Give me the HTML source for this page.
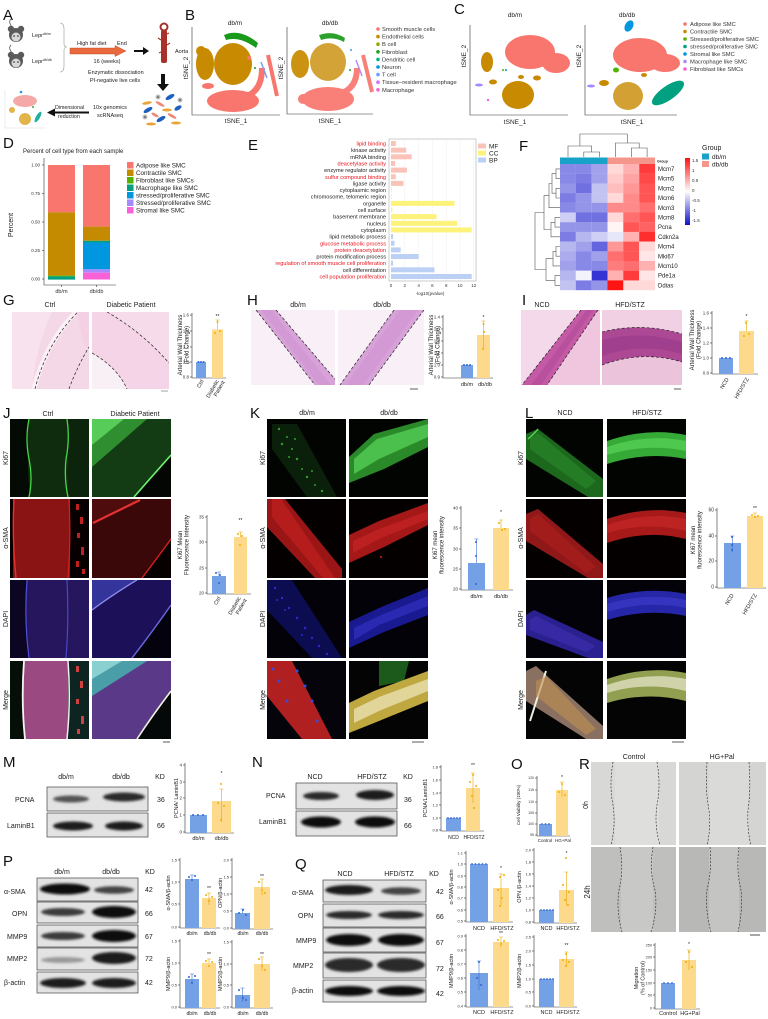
<!DOCTYPE html>
<html><head><meta charset="utf-8">
<style>
html,body{margin:0;padding:0;background:#fff;}
svg{display:block;font-family:"Liberation Sans",Arial,sans-serif;}
.ax line,.ax path{stroke:#333;stroke-width:0.6;fill:none}
.tk{font-size:4.5px;text-anchor:end;fill:#333}
.pl{font-size:15px;fill:#111}
.bb{fill:#74a0e6}
.by{fill:#fdd98b}
.eb{stroke:#3d6fd0;stroke-width:0.6;fill:none}
.ey{stroke:#e8a800;stroke-width:0.6;fill:none}
.db{fill:#2f66d4}
.dy{fill:#f2b000}
.s6{font-size:6px;fill:#222}
.s7{font-size:7px;fill:#222}
.bx{fill:#e3e3e3;stroke:#444;stroke-width:0.7}
.ds{stroke:#222;stroke-width:0.7;stroke-dasharray:3,2;fill:none}
</style></head><body>
<svg width="768" height="1019" viewBox="0 0 768 1019" xmlns="http://www.w3.org/2000/svg">
<defs>
<filter id="bl" x="-30%" y="-100%" width="160%" height="300%"><feGaussianBlur stdDeviation="1.3"/></filter>
<linearGradient id="hm" x1="0" y1="0" x2="0" y2="1">
<stop offset="0" stop-color="#ff1010"/><stop offset="0.5" stop-color="#ffffff"/><stop offset="1" stop-color="#1010c8"/></linearGradient>
</defs>

<!-- ============ A ============ -->
<text class="pl" x="3" y="20">A</text>
<g>
<path d="M12,27 Q8,22 11,19" stroke="#444" stroke-width="0.7" fill="none"/>
<circle cx="11" cy="29" r="3.2" fill="#5a5a5a"/><circle cx="21" cy="29" r="3.2" fill="#5a5a5a"/>
<ellipse cx="16" cy="35" rx="7" ry="7" fill="#5a5a5a"/><ellipse cx="16" cy="37" rx="4.5" ry="4.5" fill="#d8d8d8"/>
<circle cx="14" cy="36" r="0.8" fill="#222"/><circle cx="18" cy="36" r="0.8" fill="#222"/>
</g>
<g transform="translate(0,26)">
<path d="M12,27 Q8,22 11,19" stroke="#444" stroke-width="0.7" fill="none"/>
<circle cx="11" cy="29" r="3.2" fill="#5a5a5a"/><circle cx="21" cy="29" r="3.2" fill="#5a5a5a"/>
<ellipse cx="16" cy="35" rx="7" ry="7" fill="#5a5a5a"/><ellipse cx="16" cy="37" rx="4.5" ry="4.5" fill="#d8d8d8"/>
<circle cx="14" cy="36" r="0.8" fill="#222"/><circle cx="18" cy="36" r="0.8" fill="#222"/>
</g>
<text x="32" y="37" font-size="5.5" fill="#222">Lepr<tspan font-size="3.5" dy="-2">db/m</tspan></text>
<text x="32" y="63" font-size="5.5" fill="#222">Lepr<tspan font-size="3.5" dy="-2">db/db</tspan></text>
<path d="M60,23 Q64,23 64,29 L64,44 Q64,47 67,47 Q64,47 64,50 L64,66 Q64,72 60,72" stroke="#999" stroke-width="0.6" fill="none"/>
<polygon points="70,48 115,48 115,45.5 126,51 115,56.5 115,54 70,54" fill="#ea6a3e" stroke="#b04020" stroke-width="0.4"/>
<text x="77" y="45" font-size="5.5" fill="#222">High fat diet</text>
<text x="117" y="45" font-size="5.5" fill="#222">End</text>
<text x="107" y="63" font-size="5.5" fill="#222" text-anchor="middle">16 (weeks)</text>
<path d="M134,50 L143,50 L143,47 L149,51 L143,55 L143,52 L134,52 Z" fill="#111"/>
<circle cx="164" cy="27" r="3.5" stroke="#a33028" stroke-width="2" fill="none"/>
<rect x="161" y="30" width="6" height="33" rx="2" fill="#a8322a"/>
<path d="M161,40 l-3,-2 M167,45 l3,-2 M161,52 l-2,1 M167,34 l2,-1" stroke="#a8322a" stroke-width="1.2"/>
<text x="175" y="53" font-size="5.5" fill="#222">Aorta</text>
<text x="88" y="74" font-size="5.5" fill="#222">Enzymatic dissociation</text>
<text x="90" y="82" font-size="5.5" fill="#222">PI-negative live cells</text>
<path d="M161,74 L165,74 L165,84 L169,84 L163,91 L157,84 L161,84 Z" fill="#111"/>
<g>
<ellipse cx="170" cy="97" rx="5" ry="2" transform="rotate(-30 170 97)" fill="#1f5fbf"/>
<ellipse cx="148" cy="110" rx="5" ry="2" transform="rotate(-30 148 110)" fill="#1f5fbf"/>
<ellipse cx="161" cy="119" rx="5" ry="2" transform="rotate(-30 161 119)" fill="#1f5fbf"/>
<ellipse cx="178" cy="108" rx="4" ry="2" transform="rotate(-30 178 108)" fill="#1f5fbf"/>
<ellipse cx="147" cy="103" rx="5" ry="1.5" transform="rotate(-10 147 103)" fill="#e8a53a"/>
<ellipse cx="167" cy="110" rx="5" ry="1.5" fill="#e8a53a"/>
<ellipse cx="151" cy="124" rx="5" ry="1.5" fill="#e8a53a"/>
<ellipse cx="176" cy="123" rx="5" ry="1.5" fill="#e8a53a"/>
<ellipse cx="160" cy="104" rx="5" ry="1.5" transform="rotate(30 160 104)" fill="#f08878"/>
<ellipse cx="172" cy="116" rx="5" ry="1.5" transform="rotate(30 172 116)" fill="#f08878"/>
<ellipse cx="155" cy="115" rx="4" ry="1.5" transform="rotate(30 155 115)" fill="#f08878"/>
<circle cx="158" cy="97" r="2.5" fill="#bbb"/><circle cx="158" cy="97" r="0.8" fill="#333"/>
<circle cx="145" cy="117" r="2.5" fill="#bbb"/><circle cx="145" cy="117" r="0.8" fill="#333"/>
<circle cx="180" cy="100" r="2.5" fill="#bbb"/><circle cx="180" cy="100" r="0.8" fill="#333"/>
</g>
<text x="93" y="109" font-size="5.5" fill="#222">10x genomics</text>
<text x="97" y="117" font-size="5.5" fill="#222">scRNAseq</text>
<path d="M89,111.5 L55,111.5 L55,108.5 L47,112.5 L55,116.5 L55,113.5 L89,113.5 Z" fill="#111"/>
<text x="55" y="109" font-size="5.3" fill="#222">Dimensional</text>
<text x="58" y="118" font-size="5.3" fill="#222">reduction</text>
<path d="M5,90 V128 H46" stroke="#ddd" stroke-width="0.5" fill="none"/>
<ellipse cx="25" cy="101" rx="12" ry="6" fill="#f4a8a8"/>
<ellipse cx="25" cy="119" rx="6" ry="6" fill="#e2b449"/>
<ellipse cx="12" cy="110" rx="3" ry="3" fill="#e2b449"/>
<ellipse cx="38" cy="117" rx="2" ry="6" transform="rotate(30 38 117)" fill="#20b0a0"/>
<circle cx="21" cy="92" r="1.3" fill="#3090e0"/><circle cx="33" cy="107" r="1" fill="#40a040"/>

<!-- ============ B ============ -->
<text class="pl" x="185" y="20">B</text>
<text x="235" y="25" font-size="6.5" text-anchor="middle" fill="#222">db/m</text>
<text x="330" y="25" font-size="6.5" text-anchor="middle" fill="#222">db/db</text>
<g class="ax"><path d="M192,27 V115 H280"/><path d="M287,27 V114 H373"/></g>
<text transform="translate(188,68) rotate(-90)" font-size="6.5" text-anchor="middle" fill="#222">tSNE_2</text>
<text transform="translate(283,68) rotate(-90)" font-size="6.5" text-anchor="middle" fill="#222">tSNE_2</text>
<text x="236" y="123" font-size="6.5" text-anchor="middle" fill="#222">tSNE_1</text>
<text x="330" y="123" font-size="6.5" text-anchor="middle" fill="#222">tSNE_1</text>
<g>
<path d="M224,35 Q240,28 258,43 L256,48 Q240,36 226,40 Z" fill="#1a9a1a"/>
<ellipse cx="233" cy="64" rx="19" ry="21" fill="#c88a00"/>
<ellipse cx="205" cy="64" rx="9" ry="16" fill="#c88a00"/>
<ellipse cx="201" cy="51" rx="5" ry="5" fill="#c88a00"/>
<ellipse cx="233" cy="101" rx="26" ry="11" fill="#f8766d"/>
<path d="M244,97 Q262,92 262,68" stroke="#f8766d" stroke-width="6" fill="none"/>
<path d="M268,55 L277,96" stroke="#f8766d" stroke-width="4"/>
<ellipse cx="208" cy="86" rx="6" ry="3" fill="#f8766d"/>
<circle cx="249" cy="58" r="2" fill="#f8766d"/>
<path d="M261,62 L267,78" stroke="#7b9ef0" stroke-width="1.5"/>
<circle cx="255" cy="68" r="1" fill="#1a9a1a"/>
</g>
<g transform="translate(95,0)" opacity="0.92">
<path d="M224,35 Q238,30 250,38 L249,42 Q238,36 226,40 Z" fill="#1a9a1a"/>
<ellipse cx="233" cy="62" rx="18" ry="19" fill="#c88a00" opacity="0.85"/>
<ellipse cx="205" cy="64" rx="9" ry="14" fill="#c88a00"/>
<ellipse cx="233" cy="99" rx="26" ry="12" fill="#f8766d"/>
<path d="M244,94 Q262,89 262,68" stroke="#f8766d" stroke-width="6" fill="none"/>
<path d="M268,55 L277,92" stroke="#f8766d" stroke-width="4"/>
<ellipse cx="208" cy="99" rx="5" ry="5" fill="#f8766d"/>
<path d="M261,60 L267,76" stroke="#b080f0" stroke-width="1.5"/>
<circle cx="256" cy="50" r="1" fill="#3090e0"/><circle cx="255" cy="70" r="1" fill="#1a9a1a"/>
</g>
<g font-size="5.8" fill="#333">
<circle cx="378" cy="29" r="1.8" fill="#f8766d"/><text x="382" y="31">Smooth muscle cells</text>
<circle cx="378" cy="36.6" r="1.8" fill="#c88a00"/><text x="382" y="38.6">Endothelial cells</text>
<circle cx="378" cy="44.2" r="1.8" fill="#99a800"/><text x="382" y="46.2">B cell</text>
<circle cx="378" cy="51.8" r="1.8" fill="#1aa01a"/><text x="382" y="53.8">Fibroblast</text>
<circle cx="378" cy="59.4" r="1.8" fill="#00b48a"/><text x="382" y="61.4">Dendritic cell</text>
<circle cx="378" cy="67" r="1.8" fill="#0096e0"/><text x="382" y="69">Neuron</text>
<circle cx="378" cy="74.6" r="1.8" fill="#6d9eff"/><text x="382" y="76.6">T cell</text>
<circle cx="378" cy="82.2" r="1.8" fill="#d46cff"/><text x="382" y="84.2">Tissue−resident macrophage</text>
<circle cx="378" cy="89.8" r="1.8" fill="#fb61d7"/><text x="382" y="91.8">Macrophage</text>
</g>

<!-- ============ C ============ -->
<text class="pl" x="454" y="14">C</text>
<text x="515" y="17" font-size="6.5" text-anchor="middle" fill="#222">db/m</text>
<text x="627" y="17" font-size="6.5" text-anchor="middle" fill="#222">db/db</text>
<g class="ax"><path d="M470,25 V115 H568"/><path d="M585,25 V115 H677"/></g>
<text transform="translate(466,56) rotate(-90)" font-size="6.5" text-anchor="middle" fill="#222">tSNE_2</text>
<text transform="translate(581,56) rotate(-90)" font-size="6.5" text-anchor="middle" fill="#222">tSNE_2</text>
<text x="515" y="124" font-size="6.5" text-anchor="middle" fill="#222">tSNE_1</text>
<text x="632" y="124" font-size="6.5" text-anchor="middle" fill="#222">tSNE_1</text>
<g>
<ellipse cx="530" cy="52" rx="25" ry="17" fill="#f8766d"/>
<ellipse cx="556" cy="63" rx="14" ry="10" fill="#f8766d"/>
<ellipse cx="518" cy="95" rx="16" ry="14" fill="#c88a00"/>
<ellipse cx="487" cy="62" rx="6" ry="10" fill="#c88a00"/>
<ellipse cx="493" cy="82" rx="4" ry="2.5" fill="#c88a00"/>
<ellipse cx="537" cy="78" rx="4" ry="2.5" fill="#c88a00"/>
<ellipse cx="521" cy="77" rx="3" ry="2" fill="#c88a00"/>
<ellipse cx="479" cy="85" rx="4" ry="1.5" fill="#a58aff"/>
<circle cx="488" cy="100" r="1.2" fill="#fb61d7"/>
<circle cx="503" cy="70" r="1" fill="#53b400"/><circle cx="506" cy="70" r="1" fill="#0096e0"/>
</g>
<g>
<ellipse cx="629" cy="26" rx="4" ry="6" transform="rotate(30 629 26)" fill="#0096e0"/>
<ellipse cx="640" cy="55" rx="27" ry="17" fill="#f8766d"/>
<ellipse cx="665" cy="63" rx="15" ry="9" fill="#f8766d"/>
<ellipse cx="628" cy="96" rx="15" ry="14" fill="#c88a00" opacity="0.8"/>
<ellipse cx="668" cy="93" rx="19" ry="7" transform="rotate(-35 668 93)" fill="#00a080"/>
<ellipse cx="616" cy="70" rx="3" ry="2.5" fill="#53b400"/>
<ellipse cx="604" cy="83" rx="5" ry="3" fill="#c88a00"/>
<ellipse cx="591" cy="86" rx="4" ry="1.5" fill="#a58aff"/>
<ellipse cx="644" cy="75" rx="3" ry="2" fill="#c88a00"/>
</g>
<g font-size="5.8" fill="#333">
<circle cx="685" cy="24" r="1.8" fill="#f8766d"/><text x="690" y="26">Adipose like SMC</text>
<circle cx="685" cy="31.5" r="1.8" fill="#c88a00"/><text x="690" y="33.5">Contractile SMC</text>
<circle cx="685" cy="39" r="1.8" fill="#53b400"/><text x="690" y="41">Stressed/proliferative SMC</text>
<circle cx="685" cy="46.5" r="1.8" fill="#00a080"/><text x="690" y="48.5">stressed/proliferative SMC</text>
<circle cx="685" cy="54" r="1.8" fill="#0096e0"/><text x="690" y="56">Stromal like SMC</text>
<circle cx="685" cy="61.5" r="1.8" fill="#a58aff"/><text x="690" y="63.5">Macrophage like SMC</text>
<circle cx="685" cy="69" r="1.8" fill="#fb61d7"/><text x="690" y="71">Fibroblast like SMCs</text>
</g>

<!-- ============ D ============ -->
<text class="pl" x="3" y="148">D</text>
<text x="23" y="153" font-size="6" fill="#222">Percent of cell type from each sample</text>
<g class="ax"><path d="M44,158 V285"/>
<line x1="42" y1="165" x2="44" y2="165"/><line x1="42" y1="193.5" x2="44" y2="193.5"/><line x1="42" y1="222" x2="44" y2="222"/><line x1="42" y1="250.5" x2="44" y2="250.5"/><line x1="42" y1="279" x2="44" y2="279"/>
<line x1="61.5" y1="285" x2="61.5" y2="287"/><line x1="96.5" y1="285" x2="96.5" y2="287"/><path d="M44,285 H116"/></g>
<g class="tk"><text x="40" y="166.5">1.00</text><text x="40" y="195">0.75</text><text x="40" y="223.5">0.50</text><text x="40" y="252">0.25</text><text x="40" y="280.5">0.00</text></g>
<text transform="translate(13,225) rotate(-90)" font-size="7" text-anchor="middle" fill="#222">Percent</text>
<rect x="48" y="165" width="27" height="47.3" fill="#f8766d"/>
<rect x="48" y="212.3" width="27" height="63.3" fill="#c48a00"/>
<rect x="48" y="275.6" width="27" height="0.8" fill="#53b400"/>
<rect x="48" y="276.4" width="27" height="3.2" fill="#00a080"/>
<rect x="83" y="165" width="27" height="61.6" fill="#f8766d"/>
<rect x="83" y="226.6" width="27" height="14.2" fill="#c48a00"/>
<rect x="83" y="240.8" width="27" height="1.7" fill="#00a080"/>
<rect x="83" y="242.5" width="27" height="26.8" fill="#0096e0"/>
<rect x="83" y="269.3" width="27" height="3.4" fill="#a58aff"/>
<rect x="83" y="272.7" width="27" height="6.8" fill="#fb61d7"/>
<text x="61.5" y="293" font-size="5.5" text-anchor="middle" fill="#333">db/m</text>
<text x="96.5" y="293" font-size="5.5" text-anchor="middle" fill="#333">db/db</text>
<g font-size="6.3" fill="#222">
<rect x="127" y="162" width="6.5" height="6.5" fill="#f8766d"/><text x="136" y="167.5">Adipose like SMC</text>
<rect x="127" y="169.5" width="6.5" height="6.5" fill="#c48a00"/><text x="136" y="175">Contractile SMC</text>
<rect x="127" y="177" width="6.5" height="6.5" fill="#53b400"/><text x="136" y="182.5">Fibroblast like SMCs</text>
<rect x="127" y="184.5" width="6.5" height="6.5" fill="#00a080"/><text x="136" y="190">Macrophage like SMC</text>
<rect x="127" y="192" width="6.5" height="6.5" fill="#0096e0"/><text x="136" y="197.5">stressed/proliferative SMC</text>
<rect x="127" y="199.5" width="6.5" height="6.5" fill="#a58aff"/><text x="136" y="205">Stressed/proliferative SMC</text>
<rect x="127" y="207" width="6.5" height="6.5" fill="#fb61d7"/><text x="136" y="212.5">Stromal like SMC</text>
</g>

<!-- ============ E ============ -->
<text class="pl" x="248" y="150">E</text>
<rect x="389" y="139" width="87" height="142" fill="#fff" stroke="#999" stroke-width="0.5"/>
<g stroke="#e4e4e4" stroke-width="0.5" stroke-dasharray="1.5,1">
<line x1="404.8" y1="139" x2="404.8" y2="281"/><line x1="418.6" y1="139" x2="418.6" y2="281"/><line x1="432.4" y1="139" x2="432.4" y2="281"/><line x1="446.2" y1="139" x2="446.2" y2="281"/><line x1="460" y1="139" x2="460" y2="281"/><line x1="473.8" y1="139" x2="473.8" y2="281"/>
</g>
<g fill="#fbc3b8">
<rect x="391" y="141" width="4.8" height="5"/><rect x="391" y="147.65" width="15.2" height="5"/><rect x="391" y="154.3" width="20.7" height="5"/><rect x="391" y="160.95" width="4.1" height="5"/><rect x="391" y="167.6" width="15.9" height="5"/><rect x="391" y="174.25" width="4.8" height="5"/><rect x="391" y="180.9" width="12.4" height="5"/>
</g>
<g fill="#fdf27a">
<rect x="391" y="187.55" width="0.7" height="5"/><rect x="391" y="194.2" width="0.7" height="5"/><rect x="391" y="200.85" width="63.5" height="5"/><rect x="391" y="207.5" width="1.4" height="5"/><rect x="391" y="214.15" width="45.5" height="5"/><rect x="391" y="220.8" width="66.2" height="5"/><rect x="391" y="227.45" width="80.7" height="5"/>
</g>
<g fill="#bcd0f5">
<rect x="391" y="234.1" width="2.1" height="5"/><rect x="391" y="240.75" width="3.5" height="5"/><rect x="391" y="247.4" width="9.7" height="5"/><rect x="391" y="254.05" width="27.6" height="5"/><rect x="391" y="260.7" width="2.1" height="5"/><rect x="391" y="267.35" width="43.5" height="5"/><rect x="391" y="274" width="80.7" height="5"/>
</g>
<g font-size="5.6" text-anchor="end" fill="#222">
<text x="386" y="145.5" fill="#e8141c">lipid binding</text>
<text x="386" y="152.15">kinase activity</text>
<text x="386" y="158.8">mRNA binding</text>
<text x="386" y="165.45" fill="#e8141c">deacetylase activity</text>
<text x="386" y="172.1">enzyme regulator activity</text>
<text x="386" y="178.75" fill="#e8141c">sulfur compound binding</text>
<text x="386" y="185.4">ligase activity</text>
<text x="386" y="192.05">cytoplasmic region</text>
<text x="386" y="198.7">chromosome, telomeric region</text>
<text x="386" y="205.35">organelle</text>
<text x="386" y="212">cell surface</text>
<text x="386" y="218.65">basement membrane</text>
<text x="386" y="225.3">nucleus</text>
<text x="386" y="231.95">cytoplasm</text>
<text x="386" y="238.6">lipid metabolic process</text>
<text x="386" y="245.25" fill="#e8141c">glucose metabolic process</text>
<text x="386" y="251.9" fill="#e8141c">protein deacetylation</text>
<text x="386" y="258.55">protein modification process</text>
<text x="386" y="265.2" fill="#e8141c">regulation of smooth muscle cell proliferation</text>
<text x="386" y="271.85">cell differentiation</text>
<text x="386" y="278.5" fill="#e8141c">cell population proliferation</text>
</g>
<g font-size="4.5" text-anchor="middle" fill="#333">
<text x="391" y="287">0</text><text x="404.8" y="287">2</text><text x="418.6" y="287">4</text><text x="432.4" y="287">6</text><text x="446.2" y="287">8</text><text x="460" y="287">10</text><text x="473.8" y="287">12</text>
<text x="430" y="295">-log10(pvalue)</text>
</g>
<g font-size="6.5" fill="#222">
<rect x="478" y="143.5" width="8" height="5" fill="#fbc3b8"/><text x="489" y="148.5">MF</text>
<rect x="478" y="150.5" width="8" height="5" fill="#fdf27a"/><text x="489" y="155.5">CC</text>
<rect x="478" y="157.5" width="8" height="5" fill="#bcd0f5"/><text x="489" y="162.5">BP</text>
</g>

<!-- ============ F ============ -->
<text class="pl" x="519" y="151">F</text>
<g stroke="#555" stroke-width="0.6" fill="none">
<path d="M583.8,157V152H599.6V157"/><path d="M568,157V146H591.7V152"/><path d="M631.3,157V148H647.1V157"/><path d="M615.4,157V143H639.2V148"/><path d="M579.9,146V134H627.3V143"/>
<path d="M560,168.9H556V178.6H560"/><path d="M560,188.3H556V198H560"/><path d="M556,173.7H552V193.2H556"/><path d="M552,183.5H549V207.7H560"/><path d="M560,217.4H555V227.1H560"/><path d="M555,222.3H551V236.8H560"/><path d="M549,195.6H544V229.5H551"/><path d="M560,246.5H556V256.2H560"/><path d="M556,251.4H553V265.9H560"/><path d="M560,275.6H555V285.3H560"/><path d="M553,258.6H546V280.4H555"/><path d="M544,212.5H535V269.5H546"/>
</g>
<rect x="560" y="157.5" width="47.5" height="6.5" fill="#18a2c8"/>
<rect x="607.5" y="157.5" width="47.5" height="6.5" fill="#f4968b"/>
<text x="657" y="162.5" font-size="3.6" font-weight="bold" fill="#222">Group</text>
<g>
<rect x="560" y="164" width="15.9" height="9.8" fill="rgb(136,136,230)"/><rect x="575.8" y="164" width="15.9" height="9.8" fill="rgb(136,136,230)"/><rect x="591.7" y="164" width="15.9" height="9.8" fill="rgb(160,160,235)"/><rect x="607.5" y="164" width="15.9" height="9.8" fill="rgb(255,216,216)"/><rect x="623.3" y="164" width="15.9" height="9.8" fill="rgb(255,177,177)"/><rect x="639.2" y="164" width="15.9" height="9.8" fill="rgb(255,59,59)"/>
<rect x="560" y="173.7" width="15.9" height="9.8" fill="rgb(136,136,230)"/><rect x="575.8" y="173.7" width="15.9" height="9.8" fill="rgb(124,124,228)"/><rect x="591.7" y="173.7" width="15.9" height="9.8" fill="rgb(160,160,235)"/><rect x="607.5" y="173.7" width="15.9" height="9.8" fill="rgb(255,203,203)"/><rect x="623.3" y="173.7" width="15.9" height="9.8" fill="rgb(255,164,164)"/><rect x="639.2" y="173.7" width="15.9" height="9.8" fill="rgb(255,72,72)"/>
<rect x="560" y="183.4" width="15.9" height="9.8" fill="rgb(148,148,233)"/><rect x="575.8" y="183.4" width="15.9" height="9.8" fill="rgb(112,112,225)"/><rect x="591.7" y="183.4" width="15.9" height="9.8" fill="rgb(195,195,242)"/><rect x="607.5" y="183.4" width="15.9" height="9.8" fill="rgb(255,190,190)"/><rect x="623.3" y="183.4" width="15.9" height="9.8" fill="rgb(255,151,151)"/><rect x="639.2" y="183.4" width="15.9" height="9.8" fill="rgb(255,85,85)"/>
<rect x="560" y="193.1" width="15.9" height="9.8" fill="rgb(124,124,228)"/><rect x="575.8" y="193.1" width="15.9" height="9.8" fill="rgb(148,148,233)"/><rect x="591.7" y="193.1" width="15.9" height="9.8" fill="rgb(195,195,242)"/><rect x="607.5" y="193.1" width="15.9" height="9.8" fill="rgb(255,216,216)"/><rect x="623.3" y="193.1" width="15.9" height="9.8" fill="rgb(255,138,138)"/><rect x="639.2" y="193.1" width="15.9" height="9.8" fill="rgb(255,85,85)"/>
<rect x="560" y="202.8" width="15.9" height="9.8" fill="rgb(136,136,230)"/><rect x="575.8" y="202.8" width="15.9" height="9.8" fill="rgb(148,148,233)"/><rect x="591.7" y="202.8" width="15.9" height="9.8" fill="rgb(148,148,233)"/><rect x="607.5" y="202.8" width="15.9" height="9.8" fill="rgb(255,138,138)"/><rect x="623.3" y="202.8" width="15.9" height="9.8" fill="rgb(255,138,138)"/><rect x="639.2" y="202.8" width="15.9" height="9.8" fill="rgb(255,111,111)"/>
<rect x="560" y="212.5" width="15.9" height="9.8" fill="rgb(207,207,245)"/><rect x="575.8" y="212.5" width="15.9" height="9.8" fill="rgb(112,112,225)"/><rect x="591.7" y="212.5" width="15.9" height="9.8" fill="rgb(112,112,225)"/><rect x="607.5" y="212.5" width="15.9" height="9.8" fill="rgb(255,216,216)"/><rect x="623.3" y="212.5" width="15.9" height="9.8" fill="rgb(255,111,111)"/><rect x="639.2" y="212.5" width="15.9" height="9.8" fill="rgb(255,85,85)"/>
<rect x="560" y="222.2" width="15.9" height="9.8" fill="rgb(148,148,233)"/><rect x="575.8" y="222.2" width="15.9" height="9.8" fill="rgb(148,148,233)"/><rect x="591.7" y="222.2" width="15.9" height="9.8" fill="rgb(148,148,233)"/><rect x="607.5" y="222.2" width="15.9" height="9.8" fill="rgb(255,245,245)"/><rect x="623.3" y="222.2" width="15.9" height="9.8" fill="rgb(255,85,85)"/><rect x="639.2" y="222.2" width="15.9" height="9.8" fill="rgb(255,98,98)"/>
<rect x="560" y="231.9" width="15.9" height="9.8" fill="rgb(124,124,228)"/><rect x="575.8" y="231.9" width="15.9" height="9.8" fill="rgb(183,183,240)"/><rect x="591.7" y="231.9" width="15.9" height="9.8" fill="rgb(207,207,245)"/><rect x="607.5" y="231.9" width="15.9" height="9.8" fill="rgb(231,231,250)"/><rect x="623.3" y="231.9" width="15.9" height="9.8" fill="rgb(255,177,177)"/><rect x="639.2" y="231.9" width="15.9" height="9.8" fill="rgb(255,46,46)"/>
<rect x="560" y="241.6" width="15.9" height="9.8" fill="rgb(183,183,240)"/><rect x="575.8" y="241.6" width="15.9" height="9.8" fill="rgb(160,160,235)"/><rect x="591.7" y="241.6" width="15.9" height="9.8" fill="rgb(100,100,223)"/><rect x="607.5" y="241.6" width="15.9" height="9.8" fill="rgb(255,151,151)"/><rect x="623.3" y="241.6" width="15.9" height="9.8" fill="rgb(255,85,85)"/><rect x="639.2" y="241.6" width="15.9" height="9.8" fill="rgb(255,216,216)"/>
<rect x="560" y="251.3" width="15.9" height="9.8" fill="rgb(171,171,237)"/><rect x="575.8" y="251.3" width="15.9" height="9.8" fill="rgb(136,136,230)"/><rect x="591.7" y="251.3" width="15.9" height="9.8" fill="rgb(160,160,235)"/><rect x="607.5" y="251.3" width="15.9" height="9.8" fill="rgb(255,111,111)"/><rect x="623.3" y="251.3" width="15.9" height="9.8" fill="rgb(255,85,85)"/><rect x="639.2" y="251.3" width="15.9" height="9.8" fill="rgb(255,229,229)"/>
<rect x="560" y="261" width="15.9" height="9.8" fill="rgb(160,160,235)"/><rect x="575.8" y="261" width="15.9" height="9.8" fill="rgb(136,136,230)"/><rect x="591.7" y="261" width="15.9" height="9.8" fill="rgb(136,136,230)"/><rect x="607.5" y="261" width="15.9" height="9.8" fill="rgb(255,124,124)"/><rect x="623.3" y="261" width="15.9" height="9.8" fill="rgb(255,111,111)"/><rect x="639.2" y="261" width="15.9" height="9.8" fill="rgb(255,177,177)"/>
<rect x="560" y="270.7" width="15.9" height="9.8" fill="rgb(183,183,240)"/><rect x="575.8" y="270.7" width="15.9" height="9.8" fill="rgb(243,243,252)"/><rect x="591.7" y="270.7" width="15.9" height="9.8" fill="rgb(52,52,213)"/><rect x="607.5" y="270.7" width="15.9" height="9.8" fill="rgb(255,177,177)"/><rect x="623.3" y="270.7" width="15.9" height="9.8" fill="rgb(255,59,59)"/><rect x="639.2" y="270.7" width="15.9" height="9.8" fill="rgb(255,229,229)"/>
<rect x="560" y="280.4" width="15.9" height="9.8" fill="rgb(195,195,242)"/><rect x="575.8" y="280.4" width="15.9" height="9.8" fill="rgb(124,124,228)"/><rect x="591.7" y="280.4" width="15.9" height="9.8" fill="rgb(148,148,233)"/><rect x="607.5" y="280.4" width="15.9" height="9.8" fill="rgb(255,20,20)"/><rect x="623.3" y="280.4" width="15.9" height="9.8" fill="rgb(255,216,216)"/><rect x="639.2" y="280.4" width="15.9" height="9.8" fill="rgb(255,216,216)"/>
</g>
<g font-size="6" fill="#222">
<text x="658" y="171">Mcm7</text><text x="658" y="180.7">Mcm5</text><text x="658" y="190.4">Mcm2</text><text x="658" y="200.1">Mcm6</text><text x="658" y="209.8">Mcm3</text><text x="658" y="219.5">Mcm8</text><text x="658" y="229.2">Pcna</text><text x="658" y="238.9">Cdkn2a</text><text x="658" y="248.6">Mcm4</text><text x="658" y="258.3">Mki67</text><text x="658" y="268">Mcm10</text><text x="658" y="277.7">Pde1a</text><text x="658" y="287.4">Ddias</text>
</g>
<rect x="685" y="158" width="5" height="67" fill="url(#hm)"/>
<g font-size="4.5" fill="#333">
<text x="692" y="162">1.5</text><text x="692" y="172">1</text><text x="692" y="182">0.5</text><text x="692" y="192">0</text><text x="692" y="202">-0.5</text><text x="692" y="212">-1</text><text x="692" y="222">-1.5</text>
</g>
<text x="702" y="150" font-size="7" fill="#222">Group</text>
<rect x="702" y="153.5" width="7" height="6" fill="#18a2c8"/><text x="712" y="159" font-size="6.5" fill="#222">db/m</text>
<rect x="702" y="161" width="7" height="6" fill="#f4968b"/><text x="712" y="166.5" font-size="6.5" fill="#222">db/db</text>

<!-- ============ G ============ -->
<text class="pl" x="3" y="305">G</text>
<text x="50" y="307" font-size="7" text-anchor="middle" fill="#222">Ctrl</text>
<text x="131" y="307" font-size="7" text-anchor="middle" fill="#222">Diabetic Patient</text>
<svg x="12" y="312" width="77" height="77">
<rect width="77" height="77" fill="#f5d8e8"/>
<path d="M0,0 H40 Q25,30 20,77 H0 Z" fill="#f7e2ee"/>
<path d="M22,77 Q34,30 64,0" stroke="#fbf0f6" stroke-width="5" fill="none"/>
<path d="M66,0 H77 V35 Q70,40 66,0 Z" fill="#f3d0e3"/>
<path class="ds" d="M23,77 Q35,30 66,0"/>
<path class="ds" d="M57,77 Q65,55 77,35"/>
</svg>
<svg x="92" y="312" width="77" height="77">
<rect width="77" height="77" fill="#f4d4e6"/>
<path d="M0,41 Q25,55 35,77 H0 Z" fill="#f9f0f5"/>
<path d="M15,0 Q50,20 77,51 V0 Z" fill="#f6dcea"/>
<path class="ds" d="M15,0 Q50,20 77,51"/>
<path class="ds" d="M0,41 Q25,55 35,77"/>
</svg>
<line x1="161" y1="391" x2="168" y2="391" stroke="#888" stroke-width="0.8"/>
<g class="ax"><path d="M192,313 V378 H226"/><line x1="190" y1="315" x2="192" y2="315"/><line x1="190" y1="331" x2="192" y2="331"/><line x1="190" y1="347" x2="192" y2="347"/><line x1="190" y1="362" x2="192" y2="362"/><line x1="190" y1="377" x2="192" y2="377"/></g>
<g class="tk"><text x="189" y="316.5">1.6</text><text x="189" y="332.5">1.4</text><text x="189" y="348.5">1.2</text><text x="189" y="363.5">1.0</text><text x="189" y="378.5">0.8</text></g>
<rect class="bb" x="196" y="362" width="10" height="16"/>
<rect class="by" x="212" y="329.5" width="11" height="48.5"/>
<path class="ey" d="M217.5,329.5 V320 M215.5,320 H219.5"/>
<circle class="db" cx="198.5" cy="362" r="1"/><circle class="db" cx="201" cy="362" r="1"/><circle class="db" cx="203.5" cy="362" r="1"/>
<circle class="dy" cx="217.5" cy="322" r="1"/><circle class="dy" cx="215" cy="333" r="1"/><circle class="dy" cx="220" cy="331" r="1"/>
<text x="217.5" y="318" font-size="5" text-anchor="middle" fill="#222">**</text>
<text transform="translate(182,345) rotate(-90)" font-size="6" text-anchor="middle" fill="#222">Arterial Wall Thickness</text>
<text transform="translate(188.5,345) rotate(-90)" font-size="6" text-anchor="middle" fill="#222">(Fold Change)</text>
<text transform="translate(204,381) rotate(-60)" font-size="5.5" text-anchor="end" fill="#222">Ctrl</text>
<text transform="translate(219,381) rotate(-60)" font-size="5.5" text-anchor="end" fill="#222">Diabetic</text>
<text transform="translate(225,382) rotate(-60)" font-size="5.5" text-anchor="end" fill="#222">Patient</text>

<!-- ============ H ============ -->
<text class="pl" x="247" y="305">H</text>
<text x="298" y="307" font-size="7" text-anchor="middle" fill="#222">db/m</text>
<text x="382" y="307" font-size="7" text-anchor="middle" fill="#222">db/db</text>
<svg x="251" y="310" width="84" height="75">
<rect width="84" height="75" fill="#f8f0f6"/>
<polygon points="5,0 25,0 89,75 64,75" fill="#d7a2d8"/>
<polygon points="10,0 20,0 80,75 68,75" fill="#cf92d2" opacity="0.6"/>
<path class="ds" d="M5,0 L64,75"/><path class="ds" d="M25,0 L89,75"/>
</svg>
<svg x="338" y="310" width="86" height="75">
<rect width="86" height="75" fill="#f8f0f6"/>
<polygon points="56,0 86,0 31,75 2,75" fill="#d7a2d8"/>
<polygon points="62,0 80,0 25,75 8,75" fill="#cf92d2" opacity="0.6"/>
<path class="ds" d="M56,0 L2,75"/><path class="ds" d="M86,0 L31,75"/>
</svg>
<line x1="410" y1="389" x2="418" y2="389" stroke="#333" stroke-width="0.8"/>
<g class="ax"><path d="M443,315 V378 H493"/><line x1="441" y1="317" x2="443" y2="317"/><line x1="441" y1="329" x2="443" y2="329"/><line x1="441" y1="341" x2="443" y2="341"/><line x1="441" y1="353" x2="443" y2="353"/><line x1="441" y1="365" x2="443" y2="365"/><line x1="441" y1="377" x2="443" y2="377"/></g>
<g class="tk"><text x="440" y="318.5">1.4</text><text x="440" y="330.5">1.3</text><text x="440" y="342.5">1.2</text><text x="440" y="354.5">1.1</text><text x="440" y="366.5">1.0</text><text x="440" y="378.5">0.9</text></g>
<rect class="bb" x="461" y="365" width="12" height="13"/>
<rect class="by" x="477" y="335" width="13" height="43"/>
<path class="ey" d="M483.5,335 V321 M481.5,321 H485.5 M483.5,335 V349"/>
<circle class="db" cx="464" cy="365" r="1"/><circle class="db" cx="467" cy="365" r="1"/><circle class="db" cx="470" cy="365" r="1"/>
<circle class="dy" cx="483.5" cy="324" r="1"/><circle class="dy" cx="484" cy="332" r="1"/><circle class="dy" cx="483" cy="349" r="1"/>
<text x="483.5" y="319" font-size="5" text-anchor="middle" fill="#222">*</text>
<text x="467" y="386" font-size="5.5" text-anchor="middle" fill="#222">db/m</text>
<text x="485" y="386" font-size="5.5" text-anchor="middle" fill="#222">db/db</text>
<text transform="translate(433,345) rotate(-90)" font-size="6" text-anchor="middle" fill="#222">Arterial Wall Thickness</text>
<text transform="translate(439.5,345) rotate(-90)" font-size="6" text-anchor="middle" fill="#222">(Fold Change)</text>

<!-- ============ I ============ -->
<text class="pl" x="522" y="305">I</text>
<text x="542" y="307" font-size="7" text-anchor="middle" fill="#222">NCD</text>
<text x="630" y="307" font-size="7" text-anchor="middle" fill="#222">HFD/STZ</text>
<svg x="521" y="310" width="79" height="75">
<rect width="79" height="75" fill="#f4d9ea"/>
<polygon points="60,0 79,0 79,75 26,75" fill="#efc6de"/>
<polygon points="60,0 77,0 26,75 1,75" fill="#c45aa6"/>
<polygon points="66,0 72,0 20,75 10,75" fill="#b04a98" opacity="0.6"/>
<path class="ds" d="M60,0 L1,75"/><path class="ds" d="M77,0 L26,75"/>
</svg>
<svg x="602" y="310" width="80" height="75">
<rect width="80" height="75" fill="#f1d0e4"/>
<path d="M0,22 Q40,12 80,24 L80,52 Q40,40 0,55 Z" fill="#ad4894"/>
<path d="M0,30 Q40,20 80,32 L80,44 Q40,32 0,46 Z" fill="#983a88" opacity="0.6"/>
<path d="M0,55 Q40,40 80,52 V75 H0 Z" fill="#ebc4dc"/>
<path class="ds" d="M0,22 Q40,12 80,24"/><path class="ds" d="M0,55 Q40,40 80,52"/>
</svg>
<line x1="674" y1="389" x2="681" y2="389" stroke="#333" stroke-width="0.8"/>
<g class="ax"><path d="M712,311 V374 H758"/><line x1="710" y1="313" x2="712" y2="313"/><line x1="710" y1="328" x2="712" y2="328"/><line x1="710" y1="343" x2="712" y2="343"/><line x1="710" y1="358" x2="712" y2="358"/><line x1="710" y1="373" x2="712" y2="373"/></g>
<g class="tk"><text x="709" y="314.5">1.6</text><text x="709" y="329.5">1.4</text><text x="709" y="344.5">1.2</text><text x="709" y="359.5">1.0</text><text x="709" y="374.5">0.8</text></g>
<rect class="bb" x="719" y="358" width="14" height="16"/>
<rect class="by" x="739" y="331" width="15" height="43"/>
<path class="ey" d="M746.5,331 V321 M744.5,321 H748.5"/>
<circle class="db" cx="722" cy="358" r="1"/><circle class="db" cx="726" cy="358" r="1"/><circle class="db" cx="730" cy="358" r="1"/>
<circle class="dy" cx="746" cy="323" r="1"/><circle class="dy" cx="744" cy="336" r="1"/><circle class="dy" cx="749" cy="334" r="1"/>
<text x="746.5" y="318" font-size="5" text-anchor="middle" fill="#222">*</text>
<text transform="translate(694,340) rotate(-90)" font-size="6" text-anchor="middle" fill="#222">Arterial Wall Thickness</text>
<text transform="translate(700.5,340) rotate(-90)" font-size="6" text-anchor="middle" fill="#222">(Fold Change)</text>
<text transform="translate(729,379) rotate(-60)" font-size="5.5" text-anchor="end" fill="#222">NCD</text>
<text transform="translate(749,379) rotate(-60)" font-size="5.5" text-anchor="end" fill="#222">HFD/STZ</text>

<!-- ============ J ============ -->
<text class="pl" x="3" y="418">J</text>
<text x="48" y="416" font-size="7" text-anchor="middle" fill="#222">Ctrl</text>
<text x="135" y="416" font-size="7" text-anchor="middle" fill="#222">Diabetic Patient</text>
<text transform="translate(8,458) rotate(-90)" class="s7" text-anchor="middle">Ki67</text>
<text transform="translate(8,538) rotate(-90)" class="s7" text-anchor="middle">α-SMA</text>
<text transform="translate(8,619) rotate(-90)" class="s7" text-anchor="middle">DAPI</text>
<text transform="translate(8,700) rotate(-90)" class="s7" text-anchor="middle">Merge</text>
<svg x="10" y="419" width="79" height="78">
<rect width="79" height="78" fill="#0f2c0f"/>
<path d="M0,0 H19 Q16,40 20,78 H0 Z" fill="#040b04"/>
<path d="M57,0 Q59,40 58,78 H79 V0 Z" fill="#0c240c"/>
<path d="M19,0 Q15,20 19,40 Q23,60 19,78" stroke="#46d646" stroke-width="1.3" fill="none"/>
<path d="M57,0 Q60,20 56,40 Q54,60 58,78" stroke="#46d646" stroke-width="1.3" fill="none"/>
</svg>
<svg x="92" y="419" width="79" height="78">
<rect width="79" height="78" fill="#143c14"/>
<polygon points="0,0 55,0 0,48" fill="#2f8e2f"/>
<polygon points="0,0 32,0 0,26" fill="#58cc58"/>
<polygon points="79,36 79,78 42,78" fill="#030603"/>
<path d="M79,36 Q62,55 42,78" stroke="#70f070" stroke-width="1.6" fill="none"/>
</svg>
<svg x="10" y="499" width="79" height="79">
<rect width="79" height="79" fill="#080000"/>
<rect x="3" width="57" height="79" fill="#8a1414"/>
<path d="M4,0 Q2,40 6,79" stroke="#e83030" stroke-width="1.4" fill="none"/>
<path d="M59,0 Q61,40 58,79" stroke="#d02020" stroke-width="1.3" fill="none"/>
<g fill="#c02020"><rect x="66" y="5" width="3" height="6"/><rect x="70" y="18" width="3" height="7"/><rect x="67" y="34" width="3" height="5"/><rect x="71" y="48" width="3" height="8"/><rect x="66" y="62" width="3" height="6"/><rect x="72" y="70" width="3" height="5"/></g>
</svg>
<svg x="92" y="499" width="79" height="79">
<rect width="79" height="79" fill="#3a0808"/>
<polygon points="0,0 48,0 0,26" fill="#4e0c0c"/>
<path d="M1,24 L48,1" stroke="#e83030" stroke-width="2.2"/>
<polygon points="79,40 79,79 50,79" fill="#060000"/>
<path d="M79,40 Q66,58 50,79" stroke="#e02020" stroke-width="1.3" fill="none"/>
</svg>
<svg x="10" y="580" width="79" height="78">
<rect width="79" height="78" fill="#26165e"/>
<path d="M0,0 H17 Q14,40 19,78 H0 Z" fill="#0c0622"/>
<path d="M17,0 Q14,40 19,78" stroke="#5050d8" stroke-width="1.2" fill="none"/>
<path d="M57,0 Q59,40 56,78" stroke="#4848c8" stroke-width="1.2" fill="none"/>
</svg>
<svg x="92" y="580" width="79" height="78">
<rect width="79" height="78" fill="#1c1058"/>
<polygon points="0,0 45,0 0,30" fill="#34349a"/>
<path d="M45,0 Q20,15 0,30" stroke="#9090f0" stroke-width="1.3" fill="none"/>
<polygon points="79,25 79,78 40,78" fill="#04020c"/>
<path d="M79,25 Q58,55 40,78" stroke="#6a6ae0" stroke-width="1.4" fill="none"/>
</svg>
<svg x="10" y="661" width="79" height="78">
<rect width="79" height="78" fill="#9a4a80"/>
<path d="M0,0 H14 Q11,40 15,78 H0 Z" fill="#060e08"/>
<path d="M14,0 Q11,40 15,78" stroke="#f4f4f4" stroke-width="1.8" fill="none"/>
<rect x="58" width="21" height="78" fill="#0e2420"/>
<path d="M58,0 Q61,40 57,78" stroke="#f0f0f0" stroke-width="1.5" fill="none"/>
<g fill="#d04040"><rect x="66" y="5" width="3" height="6"/><rect x="70" y="20" width="3" height="7"/><rect x="66" y="38" width="3" height="5"/><rect x="71" y="55" width="3" height="8"/><rect x="67" y="68" width="3" height="5"/></g>
</svg>
<svg x="92" y="661" width="79" height="78">
<rect width="79" height="78" fill="#5a3a88"/>
<polygon points="0,0 55,0 0,35" fill="#4a9ea8"/>
<polygon points="0,0 30,0 0,18" fill="#8ad0d0"/>
<polygon points="79,30 79,78 45,78" fill="#050808"/>
<path d="M79,30 Q60,55 45,78" stroke="#f0f0e0" stroke-width="1.6" fill="none"/>
</svg>
<line x1="163" y1="742" x2="170" y2="742" stroke="#333" stroke-width="0.8"/>
<g class="ax"><path d="M207,515 V594 H251"/><line x1="205" y1="517" x2="207" y2="517"/><line x1="205" y1="542" x2="207" y2="542"/><line x1="205" y1="568" x2="207" y2="568"/><line x1="205" y1="593" x2="207" y2="593"/></g>
<g class="tk"><text x="204" y="518.5">35</text><text x="204" y="543.5">30</text><text x="204" y="569.5">25</text><text x="204" y="594.5">20</text></g>
<rect class="bb" x="212" y="576" width="14" height="18"/>
<rect class="by" x="234" y="537" width="13" height="57"/>
<path class="eb" d="M219,576 V572 M217,572 H221"/>
<path class="ey" d="M240.5,537 V532 M238.5,532 H242.5"/>
<circle class="db" cx="216" cy="573" r="1"/><circle class="db" cx="220" cy="575" r="1"/><circle class="db" cx="219" cy="583" r="1"/>
<circle class="dy" cx="238" cy="534" r="1"/><circle class="dy" cx="242" cy="536" r="1"/><circle class="dy" cx="240" cy="545" r="1"/>
<text x="240.5" y="522" font-size="5" text-anchor="middle" fill="#222">**</text>
<text transform="translate(182,545) rotate(-90)" font-size="6" text-anchor="middle" fill="#222">Ki67   Mean</text>
<text transform="translate(188.5,545) rotate(-90)" font-size="6" text-anchor="middle" fill="#222">Fluorescence Intensity</text>
<text transform="translate(221,598) rotate(-60)" font-size="5.5" text-anchor="end" fill="#222">Ctrl</text>
<text transform="translate(241,598) rotate(-60)" font-size="5.5" text-anchor="end" fill="#222">Diabetic</text>
<text transform="translate(247,600) rotate(-60)" font-size="5.5" text-anchor="end" fill="#222">Patient</text>

<!-- ============ K ============ -->
<text class="pl" x="250" y="418">K</text>
<text x="307" y="415" font-size="7" text-anchor="middle" fill="#222">db/m</text>
<text x="389" y="415" font-size="7" text-anchor="middle" fill="#222">db/db</text>
<text transform="translate(265,458) rotate(-90)" class="s7" text-anchor="middle">Ki67</text>
<text transform="translate(265,538) rotate(-90)" class="s7" text-anchor="middle">α-SMA</text>
<text transform="translate(265,619) rotate(-90)" class="s7" text-anchor="middle">DAPI</text>
<text transform="translate(265,700) rotate(-90)" class="s7" text-anchor="middle">Merge</text>
<svg x="267" y="419" width="79" height="78">
<rect width="79" height="78" fill="#020402"/>
<polygon points="5,5 30,5 70,78 40,78 5,30" fill="#0a200a"/>
<g fill="#2fa02f"><circle cx="12" cy="10" r="1.2"/><circle cx="20" cy="18" r="1"/><circle cx="15" cy="25" r="1.2"/><circle cx="25" cy="30" r="1"/><circle cx="30" cy="40" r="1.2"/><circle cx="22" cy="38" r="1"/><circle cx="35" cy="50" r="1"/><circle cx="40" cy="58" r="1.2"/><circle cx="48" cy="66" r="1"/><circle cx="55" cy="72" r="1.2"/><circle cx="28" cy="20" r="1"/><circle cx="45" cy="52" r="1"/></g>
</svg>
<svg x="349" y="419" width="79" height="78">
<rect width="79" height="78" fill="#020402"/>
<polygon points="0,38 25,15 79,0 79,28 35,50 0,64" fill="#2a8a2a"/>
<polygon points="5,40 28,20 79,5 79,18 30,40 5,55" fill="#4cc04c"/>
</svg>
<svg x="267" y="499" width="79" height="79">
<rect width="79" height="79" fill="#050000"/>
<polygon points="0,0 18,0 75,70 75,79 48,79 0,28" fill="#9a1616"/>
<polygon points="5,0 14,0 68,79 56,79 5,18" fill="#c02020" opacity="0.7"/>
</svg>
<svg x="349" y="499" width="79" height="79">
<rect width="79" height="79" fill="#050000"/>
<polygon points="0,36 30,22 79,4 79,26 35,48 0,64" fill="#a41818"/>
<polygon points="4,42 30,30 79,12 79,20 30,40 4,54" fill="#c82424" opacity="0.7"/>
<circle cx="32" cy="58" r="1.2" fill="#a01818"/>
</svg>
<svg x="267" y="580" width="79" height="78">
<rect width="79" height="78" fill="#020208"/>
<polygon points="0,0 25,0 75,78 45,78 0,30" fill="#0c0c50"/>
<g fill="#2a2ad0"><circle cx="8" cy="8" r="1.2"/><circle cx="15" cy="18" r="1.2"/><circle cx="22" cy="28" r="1.2"/><circle cx="30" cy="38" r="1.2"/><circle cx="38" cy="48" r="1.2"/><circle cx="45" cy="58" r="1.2"/><circle cx="52" cy="66" r="1.2"/><circle cx="60" cy="74" r="1.2"/><circle cx="18" cy="30" r="1"/><circle cx="35" cy="55" r="1"/><circle cx="10" cy="20" r="1"/></g>
</svg>
<svg x="349" y="580" width="79" height="78">
<rect width="79" height="78" fill="#020208"/>
<polygon points="0,42 30,28 79,8 79,35 35,52 0,68" fill="#1a1a90"/>
<polygon points="5,48 30,36 79,16 79,26 30,45 5,60" fill="#3030c0" opacity="0.7"/>
</svg>
<svg x="267" y="661" width="79" height="78">
<rect width="79" height="78" fill="#04040a"/>
<polygon points="0,0 25,0 65,78 35,78 0,35" fill="#b02020"/>
<g fill="#3a4ad8"><circle cx="30" cy="10" r="1.5"/><circle cx="38" cy="25" r="1.5"/><circle cx="45" cy="40" r="1.5"/><circle cx="12" cy="20" r="1.5"/><circle cx="20" cy="40" r="1.5"/><circle cx="50" cy="60" r="1.5"/><circle cx="6" cy="8" r="1.5"/></g>
</svg>
<svg x="349" y="661" width="79" height="78">
<rect width="79" height="78" fill="#040404"/>
<polygon points="30,0 60,0 55,20 30,25" fill="#1c5a1c"/>
<polygon points="0,42 25,30 79,10 79,40 30,60 0,72" fill="#c0a840"/>
<polygon points="5,48 30,36 79,18 79,30 30,50 5,62" fill="#e8e0b0" opacity="0.8"/>
</svg>
<line x1="412" y1="742" x2="424" y2="742" stroke="#333" stroke-width="0.8"/>
<g class="ax"><path d="M461,506 V590 H513"/><line x1="459" y1="508" x2="461" y2="508"/><line x1="459" y1="528" x2="461" y2="528"/><line x1="459" y1="549" x2="461" y2="549"/><line x1="459" y1="569" x2="461" y2="569"/><line x1="459" y1="589" x2="461" y2="589"/></g>
<g class="tk"><text x="458" y="509.5">40</text><text x="458" y="529.5">35</text><text x="458" y="550.5">30</text><text x="458" y="570.5">25</text><text x="458" y="590.5">20</text></g>
<rect class="bb" x="468" y="563" width="17" height="27"/>
<rect class="by" x="493" y="528" width="16" height="62"/>
<path class="eb" d="M476.5,563 V539 M474.5,539 H478.5"/>
<path class="ey" d="M501,528 V520 M499,520 H503"/>
<circle class="db" cx="476" cy="542" r="1"/><circle class="db" cx="476" cy="556" r="1"/><circle class="db" cx="476" cy="584" r="1"/>
<circle class="dy" cx="499" cy="523" r="1"/><circle class="dy" cx="502" cy="530" r="1"/><circle class="dy" cx="505" cy="529" r="1"/>
<text x="501" y="514" font-size="5" text-anchor="middle" fill="#222">*</text>
<text x="476.5" y="598" font-size="5.5" text-anchor="middle" fill="#222">db/m</text>
<text x="501" y="598" font-size="5.5" text-anchor="middle" fill="#222">db/db</text>
<text transform="translate(437,545) rotate(-90)" font-size="6" text-anchor="middle" fill="#222">Ki67 mean</text>
<text transform="translate(443.5,545) rotate(-90)" font-size="6" text-anchor="middle" fill="#222">fluorescence intensity</text>

<!-- ============ L ============ -->
<text class="pl" x="525" y="418">L</text>
<text x="565" y="415" font-size="7" text-anchor="middle" fill="#222">NCD</text>
<text x="647" y="415" font-size="7" text-anchor="middle" fill="#222">HFD/STZ</text>
<text transform="translate(523,458) rotate(-90)" class="s7" text-anchor="middle">Ki67</text>
<text transform="translate(523,538) rotate(-90)" class="s7" text-anchor="middle">α-SMA</text>
<text transform="translate(523,619) rotate(-90)" class="s7" text-anchor="middle">DAPI</text>
<text transform="translate(523,700) rotate(-90)" class="s7" text-anchor="middle">Merge</text>
<svg x="526" y="419" width="77" height="78">
<rect width="77" height="78" fill="#020402"/>
<polygon points="0,15 12,10 77,60 77,78 62,78 0,40" fill="#1c681c"/>
<path d="M2,20 Q8,15 12,10" stroke="#50d050" stroke-width="1.5" fill="none"/>
<polygon points="4,20 12,14 70,62 60,70 4,30" fill="#2a8a2a" opacity="0.6"/>
</svg>
<svg x="607" y="419" width="79" height="78">
<rect width="79" height="78" fill="#020402"/>
<path d="M0,22 Q40,8 79,16 L79,40 Q40,32 0,45 Z" fill="#36aa36"/>
<path d="M0,28 Q40,14 79,22 L79,32 Q40,24 0,36 Z" fill="#56d056" opacity="0.8"/>
</svg>
<svg x="526" y="499" width="77" height="79">
<rect width="77" height="79" fill="#050000"/>
<polygon points="0,15 12,10 77,65 77,79 62,79 0,42" fill="#901818"/>
<polygon points="4,20 12,15 70,68 60,74 4,32" fill="#b02020" opacity="0.6"/>
</svg>
<svg x="607" y="499" width="79" height="79">
<rect width="79" height="79" fill="#050000"/>
<path d="M0,20 Q40,6 79,14 L79,40 Q40,30 0,44 Z" fill="#a81a1a"/>
<path d="M0,26 Q40,12 79,20 L79,32 Q40,22 0,34 Z" fill="#c82828" opacity="0.7"/>
</svg>
<svg x="526" y="580" width="77" height="78">
<rect width="77" height="78" fill="#020208"/>
<polygon points="0,35 8,30 77,62 77,78 62,78 0,55" fill="#2a2090"/>
<polygon points="4,40 10,36 70,66 60,72 4,50" fill="#4030b0" opacity="0.6"/>
</svg>
<svg x="607" y="580" width="79" height="78">
<rect width="79" height="78" fill="#020208"/>
<path d="M0,18 Q40,6 79,14 L79,36 Q40,28 0,40 Z" fill="#2626a8"/>
<path d="M0,24 Q40,12 79,20 L79,28 Q40,20 0,32 Z" fill="#3a3ac8" opacity="0.7"/>
</svg>
<svg x="526" y="661" width="77" height="78">
<rect width="77" height="78" fill="#040404"/>
<polygon points="0,10 10,5 77,65 77,78 60,78 0,40" fill="#8a7060"/>
<path d="M4,60 L20,10" stroke="#f0f0e0" stroke-width="2"/>
<polygon points="10,20 20,15 70,68 60,74 10,35" fill="#c09050" opacity="0.6"/>
</svg>
<svg x="607" y="661" width="79" height="78">
<rect width="79" height="78" fill="#040404"/>
<path d="M0,18 Q40,4 79,12 L79,40 Q40,30 0,42 Z" fill="#90a050"/>
<path d="M0,24 Q40,10 79,18 L79,30 Q40,20 0,32 Z" fill="#e0e0c0" opacity="0.8"/>
</svg>
<line x1="672" y1="742" x2="684" y2="742" stroke="#333" stroke-width="0.8"/>
<g class="ax"><path d="M717,508 V588 H766"/><line x1="715" y1="510" x2="717" y2="510"/><line x1="715" y1="536" x2="717" y2="536"/><line x1="715" y1="561" x2="717" y2="561"/><line x1="715" y1="587" x2="717" y2="587"/></g>
<g class="tk" style="font-size:5px"><text x="714" y="511.5">60</text><text x="714" y="537.5">40</text><text x="714" y="562.5">20</text><text x="714" y="588.5">0</text></g>
<rect class="bb" x="724" y="543" width="17" height="45"/>
<rect class="by" x="747" y="516" width="16" height="72"/>
<path class="eb" d="M732.5,543 V536 M730.5,536 H734.5 M732.5,543 V552"/>
<path class="ey" d="M755,516 V513 M753,513 H757"/>
<circle class="db" cx="732" cy="537" r="1"/><circle class="db" cx="732" cy="545" r="1"/><circle class="db" cx="732" cy="550" r="1"/>
<circle class="dy" cx="752" cy="515" r="1"/><circle class="dy" cx="755" cy="517" r="1"/><circle class="dy" cx="758" cy="516" r="1"/>
<text x="755" y="510" font-size="5" text-anchor="middle" fill="#222">**</text>
<text transform="translate(695,540) rotate(-90)" font-size="6" text-anchor="middle" fill="#222">Ki67 mean</text>
<text transform="translate(701.5,540) rotate(-90)" font-size="6" text-anchor="middle" fill="#222">fluorescence intensity</text>
<text transform="translate(734,595) rotate(-60)" font-size="5.5" text-anchor="end" fill="#222">NCD</text>
<text transform="translate(757,595) rotate(-60)" font-size="5.5" text-anchor="end" fill="#222">HFD/STZ</text>

<!-- ============ M ============ -->
<text class="pl" x="3" y="767">M</text>
<text x="66" y="779" class="s7" text-anchor="middle">db/m</text>
<text x="121" y="779" class="s7" text-anchor="middle">db/db</text>
<text x="160" y="779" class="s7" text-anchor="middle">KD</text>
<rect class="bx" x="47" y="787" width="101" height="24"/>
<rect class="bx" x="47" y="813" width="101" height="24"/>
<g filter="url(#bl)">
<ellipse cx="71" cy="799" rx="18" ry="3.5" fill="#555"/>
<ellipse cx="124" cy="797" rx="21" ry="4.5" fill="#2a2a2a"/>
<ellipse cx="73" cy="826" rx="20" ry="4.5" fill="#1a1a1a"/>
<ellipse cx="124" cy="826" rx="19" ry="4.5" fill="#1a1a1a"/>
</g>
<text x="15" y="802" class="s7">PCNA</text>
<text x="7" y="828" class="s7">LaminB1</text>
<text x="157" y="802" class="s7">36</text>
<text x="157" y="828" class="s7">66</text>
<g class="ax"><path d="M185,763 V833 H234"/><line x1="183" y1="765" x2="185" y2="765"/><line x1="183" y1="782" x2="185" y2="782"/><line x1="183" y1="798" x2="185" y2="798"/><line x1="183" y1="815" x2="185" y2="815"/><line x1="183" y1="832" x2="185" y2="832"/></g>
<g class="tk"><text x="182" y="766.5">4</text><text x="182" y="783.5">3</text><text x="182" y="799.5">2</text><text x="182" y="816.5">1</text><text x="182" y="833.5">0</text></g>
<rect class="bb" x="190" y="815" width="17" height="18"/>
<rect class="by" x="212" y="801" width="19" height="32"/>
<path class="ey" d="M221.5,801 V789 M219.5,789 H223.5 M221.5,801 V822"/>
<circle class="db" cx="193" cy="815" r="1"/><circle class="db" cx="198" cy="815" r="1"/><circle class="db" cx="203" cy="815" r="1"/>
<circle class="dy" cx="221" cy="784" r="1"/><circle class="dy" cx="218" cy="803" r="1"/><circle class="dy" cx="224" cy="806" r="1"/><circle class="dy" cx="221" cy="820" r="1"/>
<text x="221.5" y="775" font-size="5" text-anchor="middle" fill="#222">*</text>
<text x="198.5" y="840" font-size="5.5" text-anchor="middle" fill="#222">db/m</text>
<text x="221.5" y="840" font-size="5.5" text-anchor="middle" fill="#222">db/db</text>
<text transform="translate(178,798) rotate(-90)" font-size="5.5" text-anchor="middle" fill="#222">PCNA/ LaminB1</text>

<!-- ============ N ============ -->
<text class="pl" x="252" y="767">N</text>
<text x="315" y="779" class="s7" text-anchor="middle">NCD</text>
<text x="372" y="779" class="s7" text-anchor="middle">HFD/STZ</text>
<text x="408" y="779" class="s7" text-anchor="middle">KD</text>
<rect class="bx" x="296" y="783" width="101" height="26"/>
<rect class="bx" x="296" y="811" width="101" height="25"/>
<g filter="url(#bl)">
<ellipse cx="321" cy="796" rx="18" ry="4" fill="#2a2a2a"/>
<ellipse cx="375" cy="795" rx="19" ry="5" fill="#1a1a1a"/>
<ellipse cx="321" cy="822" rx="20" ry="5.5" fill="#111"/>
<ellipse cx="375" cy="822" rx="20" ry="5.5" fill="#111"/>
</g>
<text x="266" y="798" class="s7">PCNA</text>
<text x="259" y="824" class="s7">LaminB1</text>
<text x="404" y="802" class="s7">36</text>
<text x="404" y="828" class="s7">66</text>
<g class="ax"><path d="M441,765 V831 H484"/><line x1="439" y1="767" x2="441" y2="767"/><line x1="439" y1="780" x2="441" y2="780"/><line x1="439" y1="793" x2="441" y2="793"/><line x1="439" y1="805" x2="441" y2="805"/><line x1="439" y1="818" x2="441" y2="818"/><line x1="439" y1="830" x2="441" y2="830"/></g>
<g class="tk" style="font-size:4px"><text x="438" y="768.5">1.8</text><text x="438" y="781.5">1.6</text><text x="438" y="794.5">1.4</text><text x="438" y="806.5">1.2</text><text x="438" y="819.5">1.0</text><text x="438" y="831.5">0.8</text></g>
<rect class="bb" x="446" y="818" width="15" height="13"/>
<rect class="by" x="466" y="788" width="14" height="43"/>
<path class="ey" d="M473,788 V773 M471,773 H475 M473,788 V803"/>
<circle class="db" cx="448" cy="818" r="0.9"/><circle class="db" cx="451" cy="818" r="0.9"/><circle class="db" cx="454" cy="818" r="0.9"/><circle class="db" cx="457" cy="818" r="0.9"/><circle class="db" cx="460" cy="818" r="0.9"/>
<circle class="dy" cx="473" cy="775" r="1"/><circle class="dy" cx="470" cy="782" r="1"/><circle class="dy" cx="476" cy="786" r="1"/><circle class="dy" cx="472" cy="796" r="1"/><circle class="dy" cx="474" cy="808" r="1"/>
<text x="473" y="767" font-size="5" text-anchor="middle" fill="#222">**</text>
<text x="453.5" y="839" font-size="5" text-anchor="middle" fill="#222">NCD</text>
<text x="474" y="839" font-size="5" text-anchor="middle" fill="#222">HFD/STZ</text>
<text transform="translate(427,798) rotate(-90)" font-size="5.5" text-anchor="middle" fill="#222">PCNA/LaminB1</text>

<!-- ============ O ============ -->
<text class="pl" x="511" y="769">O</text>
<g class="ax"><path d="M537,776 V836 H570"/><line x1="535" y1="778" x2="537" y2="778"/><line x1="535" y1="790" x2="537" y2="790"/><line x1="535" y1="802" x2="537" y2="802"/><line x1="535" y1="813" x2="537" y2="813"/><line x1="535" y1="824" x2="537" y2="824"/><line x1="535" y1="835" x2="537" y2="835"/></g>
<g class="tk" style="font-size:3.5px"><text x="534" y="779">120</text><text x="534" y="791">115</text><text x="534" y="803">110</text><text x="534" y="814">105</text><text x="534" y="825">100</text><text x="534" y="836">95</text></g>
<rect class="bb" x="539" y="824" width="13" height="12"/>
<rect class="by" x="556" y="790" width="12" height="46"/>
<path class="ey" d="M562,790 V782 M560,782 H564 M562,790 V797"/>
<circle class="db" cx="542" cy="824" r="0.9"/><circle class="db" cx="545.5" cy="824" r="0.9"/><circle class="db" cx="549" cy="824" r="0.9"/>
<circle class="dy" cx="562" cy="784" r="1"/><circle class="dy" cx="559" cy="792" r="1"/><circle class="dy" cx="565" cy="795" r="1"/>
<text x="562" y="779" font-size="5" text-anchor="middle" fill="#222">*</text>
<text x="545" y="842" font-size="4.5" text-anchor="middle" fill="#222">Control</text>
<text x="563" y="842" font-size="4.5" text-anchor="middle" fill="#222">HG+Pal</text>
<text transform="translate(520,805) rotate(-90)" font-size="4.5" text-anchor="middle" fill="#222">Cell Viability (100%)</text>

<!-- ============ R ============ -->
<text class="pl" x="579" y="769">R</text>
<text x="634" y="759" class="s7" text-anchor="middle">Control</text>
<text x="722" y="759" class="s7" text-anchor="middle">HG+Pal</text>
<text transform="translate(588,805) rotate(-90)" class="s7" text-anchor="middle">0h</text>
<text transform="translate(590,892) rotate(-90)" font-size="8" text-anchor="middle" fill="#222">24h</text>
<rect x="591" y="762" width="85" height="83" fill="#d8d8d6"/>
<rect x="679" y="762" width="87" height="83" fill="#d4d4d2"/>
<rect x="591" y="847" width="85" height="85" fill="#bfbfbd"/>
<rect x="679" y="847" width="87" height="85" fill="#b8b8b6"/>
<rect x="615" y="762" width="44" height="83" fill="#dededc"/>
<rect x="621" y="847" width="32" height="85" fill="#c8c8c6"/>
<rect x="709" y="762" width="40" height="83" fill="#dadad8"/>
<rect x="709" y="847" width="30" height="85" fill="#c4c4c2"/>
<g stroke="#222" stroke-width="0.6" stroke-dasharray="2,1.5" fill="none">
<path d="M613,762 Q609,785 613,805 Q616,825 611,845"/>
<path d="M657,762 Q661,785 657,805 Q654,825 660,845"/>
<path d="M707,762 Q705,790 709,810 Q711,830 707,845"/>
<path d="M749,762 Q751,790 748,810 Q747,830 751,845"/>
<path d="M620,847 Q624,870 619,890 Q616,910 622,932"/>
<path d="M653,847 Q649,870 655,890 Q658,910 651,932"/>
<path d="M710,847 Q712,870 707,890 Q705,910 711,932"/>
<path d="M739,847 Q736,870 741,890 Q743,910 738,932"/>
</g>
<line x1="750" y1="935" x2="760" y2="935" stroke="#222" stroke-width="0.8"/>
<g class="ax"><path d="M655,943 V1009 H700"/><line x1="653" y1="945" x2="655" y2="945"/><line x1="653" y1="957" x2="655" y2="957"/><line x1="653" y1="970" x2="655" y2="970"/><line x1="653" y1="983" x2="655" y2="983"/><line x1="653" y1="995" x2="655" y2="995"/><line x1="653" y1="1008" x2="655" y2="1008"/></g>
<g class="tk" style="font-size:3.8px"><text x="652" y="946.5">250</text><text x="652" y="958.5">200</text><text x="652" y="971.5">150</text><text x="652" y="984.5">100</text><text x="652" y="996.5">50</text><text x="652" y="1009.5">0</text></g>
<rect class="bb" x="661" y="983" width="14" height="26"/>
<rect class="by" x="682" y="960" width="14" height="49"/>
<path class="ey" d="M689,960 V950 M687,950 H691 M689,960 V970"/>
<circle class="db" cx="664" cy="983" r="0.9"/><circle class="db" cx="668" cy="983" r="0.9"/><circle class="db" cx="672" cy="983" r="0.9"/>
<circle class="dy" cx="689" cy="952" r="1"/><circle class="dy" cx="686" cy="962" r="1"/><circle class="dy" cx="692" cy="967" r="1"/>
<text x="689" y="946" font-size="5" text-anchor="middle" fill="#222">*</text>
<text x="668" y="1015" font-size="5.5" text-anchor="middle" fill="#222">Control</text>
<text x="690" y="1015" font-size="5.5" text-anchor="middle" fill="#222">HG+Pal</text>
<text transform="translate(638,978) rotate(-90)" font-size="5.5" text-anchor="middle" fill="#222">Migration</text>
<text transform="translate(644.5,978) rotate(-90)" font-size="5.5" text-anchor="middle" fill="#222">(% of Control)</text>

<!-- ============ P ============ -->
<text class="pl" x="3" y="866">P</text>
<text x="62" y="874" class="s7" text-anchor="middle">db/m</text>
<text x="111" y="874" class="s7" text-anchor="middle">db/db</text>
<text x="150" y="874" class="s7" text-anchor="middle">KD</text>
<rect class="bx" x="37" y="878" width="101" height="23"/>
<rect class="bx" x="37" y="902" width="101" height="21"/>
<rect class="bx" x="37" y="925" width="101" height="22"/>
<rect class="bx" x="37" y="948" width="101" height="22"/>
<rect class="bx" x="37" y="972" width="101" height="21"/>
<g filter="url(#bl)">
<ellipse cx="65" cy="889" rx="25" ry="5.5" fill="#111"/><ellipse cx="114" cy="890" rx="20" ry="3.8" fill="#444"/>
<ellipse cx="63" cy="912" rx="22" ry="4" fill="#3a3a3a"/><ellipse cx="114" cy="912" rx="22" ry="6" fill="#111"/>
<ellipse cx="63" cy="936" rx="22" ry="4" fill="#3a3a3a"/><ellipse cx="114" cy="936" rx="22" ry="6" fill="#111"/>
<ellipse cx="63" cy="960" rx="22" ry="3" fill="#999"/><ellipse cx="114" cy="958" rx="22" ry="6" fill="#1a1a1a"/>
<ellipse cx="63" cy="983" rx="23" ry="5" fill="#1a1a1a"/><ellipse cx="114" cy="983" rx="22" ry="5" fill="#1a1a1a"/>
</g>
<text x="4" y="894" class="s7">α-SMA</text>
<text x="12" y="916" class="s7">OPN</text>
<text x="7" y="939" class="s7">MMP9</text>
<text x="7" y="961" class="s7">MMP2</text>
<text x="4" y="985" class="s7">β-actin</text>
<text x="145" y="892" class="s7">42</text>
<text x="145" y="916" class="s7">66</text>
<text x="145" y="939" class="s7">67</text>
<text x="145" y="961" class="s7">72</text>
<text x="145" y="985" class="s7">42</text>
<g class="ax"><path d="M180,858 V928 H220"/><line x1="178" y1="860" x2="180" y2="860"/><line x1="178" y1="882" x2="180" y2="882"/><line x1="178" y1="904" x2="180" y2="904"/><line x1="178" y1="927" x2="180" y2="927"/></g>
<g class="tk" style="font-size:4px"><text x="177" y="861.5">1.5</text><text x="177" y="883.5">1.0</text><text x="177" y="905.5">0.5</text><text x="177" y="928.5">0.0</text></g>
<rect class="bb" x="185" y="879" width="14" height="49"/>
<rect class="by" x="202" y="898" width="14" height="30"/>
<path class="eb" d="M192,879 V875 M190,875 H194"/>
<path class="ey" d="M209,898 V893 M207,893 H211 M209,898 V905"/>
<circle class="db" cx="189" cy="877" r="1"/><circle class="db" cx="192" cy="880" r="1"/><circle class="db" cx="195" cy="876" r="1"/>
<circle class="dy" cx="206" cy="895" r="1"/><circle class="dy" cx="209" cy="901" r="1"/><circle class="dy" cx="212" cy="897" r="1"/>
<text x="209" y="890" font-size="5" text-anchor="middle" fill="#222">**</text>
<text x="192" y="935" font-size="5" text-anchor="middle" fill="#222">db/m</text>
<text x="210" y="935" font-size="5" text-anchor="middle" fill="#222">db/db</text>
<text transform="translate(170,893) rotate(-90)" font-size="5.5" text-anchor="middle" fill="#222">α-SMA/β-actin</text>
<g class="ax"><path d="M232,858 V929 H273"/><line x1="230" y1="860" x2="232" y2="860"/><line x1="230" y1="877" x2="232" y2="877"/><line x1="230" y1="894" x2="232" y2="894"/><line x1="230" y1="911" x2="232" y2="911"/><line x1="230" y1="928" x2="232" y2="928"/></g>
<g class="tk" style="font-size:4px"><text x="229" y="861.5">2.0</text><text x="229" y="878.5">1.5</text><text x="229" y="895.5">1.0</text><text x="229" y="912.5">0.5</text><text x="229" y="929.5">0.0</text></g>
<rect class="bb" x="235" y="913" width="15" height="16"/>
<rect class="by" x="254" y="887" width="16" height="42"/>
<path class="eb" d="M242.5,913 V909 M240.5,909 H244.5"/>
<path class="ey" d="M262,887 V879 M260,879 H264 M262,887 V895"/>
<circle class="db" cx="239" cy="913" r="1"/><circle class="db" cx="243" cy="910" r="1"/><circle class="db" cx="246" cy="915" r="1"/>
<circle class="dy" cx="259" cy="882" r="1"/><circle class="dy" cx="262" cy="890" r="1"/><circle class="dy" cx="265" cy="893" r="1"/>
<text x="262" y="878" font-size="5" text-anchor="middle" fill="#222">**</text>
<text x="243" y="935" font-size="5" text-anchor="middle" fill="#222">db/m</text>
<text x="262" y="935" font-size="5" text-anchor="middle" fill="#222">db/db</text>
<text transform="translate(222,893) rotate(-90)" font-size="5.5" text-anchor="middle" fill="#222">OPN/β-actin</text>
<g class="ax"><path d="M180,939 V1008 H220"/><line x1="178" y1="941" x2="180" y2="941"/><line x1="178" y1="963" x2="180" y2="963"/><line x1="178" y1="985" x2="180" y2="985"/><line x1="178" y1="1007" x2="180" y2="1007"/></g>
<g class="tk" style="font-size:4px"><text x="177" y="942.5">1.5</text><text x="177" y="964.5">1.0</text><text x="177" y="986.5">0.5</text><text x="177" y="1008.5">0.0</text></g>
<rect class="bb" x="185" y="979" width="14" height="29"/>
<rect class="by" x="202" y="963" width="14" height="45"/>
<path class="eb" d="M192,979 V974 M190,974 H194 M192,979 V984"/>
<path class="ey" d="M209,963 V959 M207,959 H211"/>
<circle class="db" cx="189" cy="977" r="1"/><circle class="db" cx="192" cy="983" r="1"/><circle class="db" cx="195" cy="976" r="1"/>
<circle class="dy" cx="206" cy="961" r="1"/><circle class="dy" cx="209" cy="966" r="1"/><circle class="dy" cx="212" cy="962" r="1"/>
<text x="209" y="956" font-size="5" text-anchor="middle" fill="#222">**</text>
<text x="192" y="1015" font-size="5" text-anchor="middle" fill="#222">db/m</text>
<text x="210" y="1015" font-size="5" text-anchor="middle" fill="#222">db/db</text>
<text transform="translate(170,974) rotate(-90)" font-size="5.5" text-anchor="middle" fill="#222">MMP9/β-actin</text>
<g class="ax"><path d="M232,940 V1008 H273"/><line x1="230" y1="942" x2="232" y2="942"/><line x1="230" y1="964" x2="232" y2="964"/><line x1="230" y1="985" x2="232" y2="985"/><line x1="230" y1="1007" x2="232" y2="1007"/></g>
<g class="tk" style="font-size:4px"><text x="229" y="943.5">1.5</text><text x="229" y="965.5">1.0</text><text x="229" y="986.5">0.5</text><text x="229" y="1008.5">0.0</text></g>
<rect class="bb" x="235" y="995" width="15" height="13"/>
<rect class="by" x="254" y="964" width="16" height="44"/>
<path class="eb" d="M242.5,995 V988 M240.5,988 H244.5 M242.5,995 V1002"/>
<path class="ey" d="M262,964 V957 M260,957 H264 M262,964 V971"/>
<circle class="db" cx="239" cy="990" r="1"/><circle class="db" cx="243" cy="998" r="1"/><circle class="db" cx="246" cy="1000" r="1"/>
<circle class="dy" cx="259" cy="959" r="1"/><circle class="dy" cx="262" cy="966" r="1"/><circle class="dy" cx="265" cy="970" r="1"/>
<text x="262" y="956" font-size="5" text-anchor="middle" fill="#222">**</text>
<text x="243" y="1015" font-size="5" text-anchor="middle" fill="#222">db/m</text>
<text x="262" y="1015" font-size="5" text-anchor="middle" fill="#222">db/db</text>
<text transform="translate(222,974) rotate(-90)" font-size="5.5" text-anchor="middle" fill="#222">MMP2/β-actin</text>

<!-- ============ Q ============ -->
<text class="pl" x="295" y="869">Q</text>
<text x="345" y="876" class="s7" text-anchor="middle">NCD</text>
<text x="399" y="876" class="s7" text-anchor="middle">HFD/STZ</text>
<text x="434" y="876" class="s7" text-anchor="middle">KD</text>
<rect class="bx" x="323" y="880" width="103" height="22"/>
<rect class="bx" x="323" y="904" width="103" height="23"/>
<rect class="bx" x="323" y="928" width="103" height="24"/>
<rect class="bx" x="323" y="953" width="103" height="25"/>
<rect class="bx" x="323" y="980" width="103" height="22"/>
<g filter="url(#bl)">
<ellipse cx="349" cy="890" rx="24" ry="5" fill="#1a1a1a"/><ellipse cx="401" cy="891" rx="20" ry="3.8" fill="#444"/>
<ellipse cx="349" cy="915" rx="23" ry="4" fill="#2a2a2a"/><ellipse cx="401" cy="915" rx="23" ry="4" fill="#2a2a2a"/>
<ellipse cx="349" cy="940" rx="23" ry="6" fill="#111"/><ellipse cx="401" cy="940" rx="23" ry="6" fill="#111"/>
<ellipse cx="349" cy="965" rx="24" ry="7" fill="#2a2a2a"/><ellipse cx="401" cy="965" rx="24" ry="7" fill="#2a2a2a"/>
<ellipse cx="349" cy="991" rx="24" ry="5" fill="#111"/><ellipse cx="401" cy="991" rx="24" ry="5" fill="#111"/>
</g>
<text x="292" y="895" class="s7">α-SMA</text>
<text x="298" y="918" class="s7">OPN</text>
<text x="296" y="943" class="s7">MMP9</text>
<text x="293" y="968" class="s7">MMP2</text>
<text x="292" y="993" class="s7">β-actin</text>
<text x="436" y="894" class="s7">42</text>
<text x="436" y="919" class="s7">66</text>
<text x="436" y="945" class="s7">67</text>
<text x="436" y="971" class="s7">72</text>
<text x="436" y="996" class="s7">42</text>
<g class="ax"><path d="M466,851 V922 H513"/><line x1="464" y1="853" x2="466" y2="853"/><line x1="464" y1="864" x2="466" y2="864"/><line x1="464" y1="876" x2="466" y2="876"/><line x1="464" y1="887" x2="466" y2="887"/><line x1="464" y1="898" x2="466" y2="898"/><line x1="464" y1="910" x2="466" y2="910"/><line x1="464" y1="921" x2="466" y2="921"/></g>
<g class="tk" style="font-size:4px"><text x="463" y="854.5">1.1</text><text x="463" y="865.5">1.0</text><text x="463" y="877.5">0.9</text><text x="463" y="888.5">0.8</text><text x="463" y="899.5">0.7</text><text x="463" y="911.5">0.6</text><text x="463" y="922.5">0.5</text></g>
<rect class="bb" x="470" y="864" width="18" height="58"/>
<rect class="by" x="493" y="888" width="16" height="34"/>
<path class="ey" d="M501,888 V874 M499,874 H503 M501,888 V905"/>
<circle class="db" cx="472" cy="864" r="0.9"/><circle class="db" cx="475.5" cy="864" r="0.9"/><circle class="db" cx="479" cy="864" r="0.9"/><circle class="db" cx="482.5" cy="864" r="0.9"/><circle class="db" cx="486" cy="864" r="0.9"/>
<circle class="dy" cx="500" cy="877" r="1"/><circle class="dy" cx="504" cy="875" r="1"/><circle class="dy" cx="498" cy="890" r="1"/><circle class="dy" cx="502" cy="898" r="1"/><circle class="dy" cx="500" cy="906" r="1"/>
<text x="501" y="870" font-size="5" text-anchor="middle" fill="#222">*</text>
<text x="479" y="930" font-size="5.5" text-anchor="middle" fill="#222">NCD</text>
<text x="502" y="930" font-size="5.5" text-anchor="middle" fill="#222">HFD/STZ</text>
<text transform="translate(453,887) rotate(-90)" font-size="5.5" text-anchor="middle" fill="#222">α-SMA/β-actin</text>
<g class="ax"><path d="M534,848 V923 H577"/><line x1="532" y1="850" x2="534" y2="850"/><line x1="532" y1="862" x2="534" y2="862"/><line x1="532" y1="874" x2="534" y2="874"/><line x1="532" y1="886" x2="534" y2="886"/><line x1="532" y1="898" x2="534" y2="898"/><line x1="532" y1="910" x2="534" y2="910"/><line x1="532" y1="922" x2="534" y2="922"/></g>
<g class="tk" style="font-size:4px"><text x="531" y="851.5">2.0</text><text x="531" y="863.5">1.8</text><text x="531" y="875.5">1.6</text><text x="531" y="887.5">1.4</text><text x="531" y="899.5">1.2</text><text x="531" y="911.5">1.0</text><text x="531" y="923.5">0.8</text></g>
<rect class="bb" x="539" y="910" width="15" height="13"/>
<rect class="by" x="559" y="890" width="15" height="33"/>
<path class="ey" d="M566.5,890 V872 M564.5,872 H568.5 M566.5,890 V905"/>
<circle class="db" cx="541" cy="910" r="0.9"/><circle class="db" cx="544" cy="910" r="0.9"/><circle class="db" cx="547" cy="910" r="0.9"/><circle class="db" cx="550" cy="910" r="0.9"/><circle class="db" cx="553" cy="910" r="0.9"/>
<circle class="dy" cx="566" cy="858" r="1"/><circle class="dy" cx="563" cy="885" r="1"/><circle class="dy" cx="569" cy="892" r="1"/><circle class="dy" cx="565" cy="900" r="1"/><circle class="dy" cx="568" cy="905" r="1"/>
<text x="566.5" y="855" font-size="5" text-anchor="middle" fill="#222">*</text>
<text x="546.5" y="930" font-size="5.5" text-anchor="middle" fill="#222">NCD</text>
<text x="568" y="930" font-size="5.5" text-anchor="middle" fill="#222">HFD/STZ</text>
<text transform="translate(521,887) rotate(-90)" font-size="5.5" text-anchor="middle" fill="#222">OPN /β-actin</text>
<g class="ax"><path d="M466,934 V1007 H513"/><line x1="464" y1="936" x2="466" y2="936"/><line x1="464" y1="950" x2="466" y2="950"/><line x1="464" y1="964" x2="466" y2="964"/><line x1="464" y1="978" x2="466" y2="978"/><line x1="464" y1="992" x2="466" y2="992"/><line x1="464" y1="1006" x2="466" y2="1006"/></g>
<g class="tk" style="font-size:4px"><text x="463" y="937.5">0.9</text><text x="463" y="951.5">0.8</text><text x="463" y="965.5">0.7</text><text x="463" y="979.5">0.6</text><text x="463" y="993.5">0.5</text><text x="463" y="1007.5">0.4</text></g>
<rect class="bb" x="470" y="973" width="18" height="34"/>
<rect class="by" x="493" y="942" width="16" height="65"/>
<path class="eb" d="M479,973 V961 M477,961 H481 M479,973 V990"/>
<path class="ey" d="M501,942 V937 M499,937 H503 M501,942 V947"/>
<circle class="db" cx="479" cy="962" r="1"/><circle class="db" cx="477" cy="978" r="1"/><circle class="db" cx="481" cy="985" r="1"/>
<circle class="dy" cx="498" cy="940" r="1"/><circle class="dy" cx="501" cy="944" r="1"/><circle class="dy" cx="504" cy="941" r="1"/>
<text x="501" y="935" font-size="5" text-anchor="middle" fill="#222">**</text>
<text x="479" y="1014" font-size="5.5" text-anchor="middle" fill="#222">NCD</text>
<text x="502" y="1014" font-size="5.5" text-anchor="middle" fill="#222">HFD/STZ</text>
<text transform="translate(453,971) rotate(-90)" font-size="5.5" text-anchor="middle" fill="#222">MMP9/β-actin</text>
<g class="ax"><path d="M534,935 V1007 H577"/><line x1="532" y1="937" x2="534" y2="937"/><line x1="532" y1="951" x2="534" y2="951"/><line x1="532" y1="965" x2="534" y2="965"/><line x1="532" y1="979" x2="534" y2="979"/><line x1="532" y1="992" x2="534" y2="992"/><line x1="532" y1="1006" x2="534" y2="1006"/></g>
<g class="tk" style="font-size:4px"><text x="531" y="938.5">2.5</text><text x="531" y="952.5">2.0</text><text x="531" y="966.5">1.5</text><text x="531" y="980.5">1.0</text><text x="531" y="993.5">0.5</text><text x="531" y="1007.5">0.0</text></g>
<rect class="bb" x="539" y="979" width="15" height="28"/>
<rect class="by" x="559" y="959" width="15" height="48"/>
<path class="ey" d="M566.5,959 V952 M564.5,952 H568.5 M566.5,959 V967"/>
<circle class="db" cx="541" cy="979" r="0.9"/><circle class="db" cx="544" cy="979" r="0.9"/><circle class="db" cx="547" cy="979" r="0.9"/><circle class="db" cx="550" cy="979" r="0.9"/><circle class="db" cx="553" cy="979" r="0.9"/>
<circle class="dy" cx="566" cy="954" r="1"/><circle class="dy" cx="563" cy="960" r="1"/><circle class="dy" cx="569" cy="962" r="1"/><circle class="dy" cx="566" cy="966" r="1"/>
<text x="566.5" y="947" font-size="5" text-anchor="middle" fill="#222">**</text>
<text x="546.5" y="1014" font-size="5.5" text-anchor="middle" fill="#222">NCD</text>
<text x="568" y="1014" font-size="5.5" text-anchor="middle" fill="#222">HFD/STZ</text>
<text transform="translate(521,971) rotate(-90)" font-size="5.5" text-anchor="middle" fill="#222">MMP2/β-actin</text>
</svg>
</body></html>
